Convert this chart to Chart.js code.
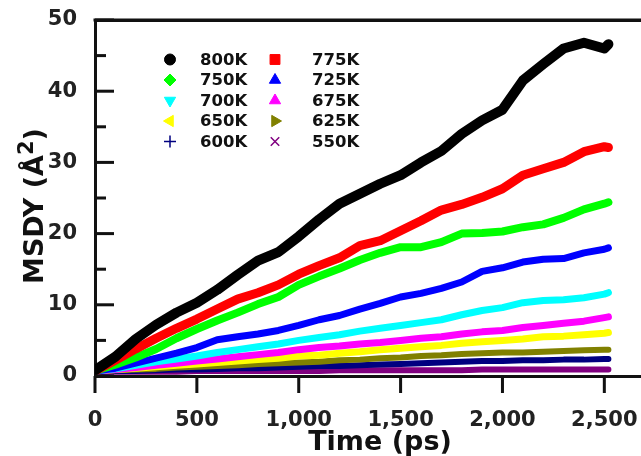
<!DOCTYPE html>
<html>
<head>
<meta charset="utf-8">
<script src="https://cdn.jsdelivr.net/npm/chart.js@4.4.1/dist/chart.umd.min.js"></script>
<style>
    html, body { margin: 0; padding: 0; background: #ffffff; }
    canvas { display: block; }
</style>
</head>
<body>
<canvas id="msdChart" width="641" height="456"></canvas>
<script>
// Time axis (ps), shared by every series
const times = [0, 100, 200, 300, 400, 500, 600, 700, 800, 900, 1000, 1100, 1200, 1300,
    1400, 1500, 1600, 1700, 1800, 1900, 2000, 2100, 2200, 2300, 2400, 2500, 2520];

// MSD in the y direction (A^2)
const msd800 = [0.8, 2.7, 5.2, 7.2, 8.9, 10.3, 12.1, 14.2, 16.2, 17.4, 19.6, 22.0, 24.2, 25.6,
    27.0, 28.2, 30.0, 31.6, 34.0, 35.9, 37.4, 41.5, 43.8, 46.0, 46.8, 46.0, 46.6];
const msd775 = [0.7, 2.2, 3.8, 5.3, 6.7, 8.0, 9.4, 10.8, 11.7, 12.8, 14.3, 15.5, 16.6, 18.3,
    19.0, 20.4, 21.8, 23.3, 24.1, 25.1, 26.3, 28.2, 29.1, 30.0, 31.5, 32.2, 32.1];
const msd750 = [0.7, 1.6, 2.6, 3.8, 5.3, 6.6, 7.8, 8.9, 10.1, 11.1, 12.8, 14.0, 15.1, 16.3,
    17.3, 18.1, 18.1, 18.8, 20.0, 20.1, 20.3, 20.9, 21.3, 22.2, 23.4, 24.2, 24.4];
const msd725 = [0.7, 1.1, 1.8, 2.5, 3.2, 4.0, 5.1, 5.5, 5.9, 6.4, 7.1, 7.9, 8.5, 9.4,
    10.2, 11.1, 11.6, 12.3, 13.2, 14.7, 15.2, 16.0, 16.4, 16.5, 17.3, 17.8, 18.0];
const msd700 = [0.7, 1.0, 1.5, 2.0, 2.4, 2.8, 3.3, 3.7, 4.1, 4.5, 5.0, 5.4, 5.8, 6.3,
    6.7, 7.1, 7.5, 7.9, 8.6, 9.2, 9.6, 10.3, 10.6, 10.7, 11.0, 11.5, 11.7];
const msd675 = [0.7, 0.9, 1.2, 1.5, 1.8, 2.1, 2.4, 2.7, 3.0, 3.3, 3.7, 4.0, 4.2, 4.5,
    4.7, 5.0, 5.3, 5.5, 5.9, 6.2, 6.4, 6.8, 7.1, 7.4, 7.7, 8.2, 8.3];
const msd650 = [0.7, 0.9, 1.1, 1.3, 1.5, 1.7, 1.9, 2.1, 2.3, 2.5, 2.8, 2.9, 3.2, 3.4,
    3.7, 3.9, 4.1, 4.3, 4.6, 4.8, 5.0, 5.2, 5.5, 5.6, 5.8, 6.0, 6.1];
const msd625 = [0.7, 0.8, 0.9, 1.0, 1.2, 1.3, 1.4, 1.5, 1.7, 1.8, 1.9, 2.0, 2.2, 2.3,
    2.5, 2.6, 2.8, 2.9, 3.1, 3.2, 3.3, 3.3, 3.4, 3.5, 3.6, 3.7, 3.7];
const msd600 = [0.6, 0.7, 0.7, 0.8, 0.9, 0.9, 1.0, 1.1, 1.1, 1.2, 1.3, 1.4, 1.4, 1.5,
    1.6, 1.7, 1.8, 1.9, 2.0, 2.1, 2.1, 2.2, 2.2, 2.3, 2.3, 2.4, 2.4];
const msd550 = [0.5, 0.6, 0.6, 0.6, 0.6, 0.7, 0.7, 0.7, 0.7, 0.7, 0.7, 0.7, 0.8, 0.8,
    0.8, 0.8, 0.8, 0.8, 0.8, 0.9, 0.9, 0.9, 0.9, 0.9, 0.9, 0.9, 0.9];

const xTicks = [0, 500, 1000, 1500, 2000, 2500];
const yMajorTicks = [0, 10, 20, 30, 40, 50];
const yMinorTicks = [5, 15, 25, 35, 45];

const FONT = 'DejaVu Sans';
const AXIS_COLOR = '#111111';
const TEXT_COLOR = '#222222';

function series(label, values, color, pointStyle, rotation, width) {
    return {
        label: label,
        data: times.map((t, i) => ({ x: t, y: values[i] })),
        borderColor: color,
        backgroundColor: color,
        borderWidth: width,
        borderCapStyle: 'round',
        borderJoinStyle: 'round',
        pointRadius: 0,
        pointStyle: pointStyle,
        rotation: rotation,
        tension: 0,
        fill: false
    };
}

const datasets = [
    series('800K', msd800, '#000000', 'circle', 0, 10),
    series('775K', msd775, '#ff0000', 'rect', 0, 9),
    series('750K', msd750, '#00ff00', 'rectRot', 0, 8),
    series('725K', msd725, '#0000ff', 'triangle', 0, 7),
    series('700K', msd700, '#00ffff', 'triangle', 180, 7),
    series('675K', msd675, '#ff00ff', 'triangle', 0, 7),
    series('650K', msd650, '#ffff00', 'triangle', -90, 7),
    series('625K', msd625, '#808000', 'triangle', 90, 6),
    series('600K', msd600, '#000080', 'cross', 0, 6),
    series('550K', msd550, '#800080', 'crossRot', 0, 6)
];

// Ticks inside the frame for y, outside for x, plus the top line
const framePlugin = {
    id: 'frame',
    afterDraw(chart) {
        const ctx = chart.ctx;
        const xs = chart.scales.x;
        const ys = chart.scales.y;
        const left = xs.left;
        const bottom = ys.getPixelForValue(0);
        const top = ys.getPixelForValue(50);
        ctx.save();
        ctx.fillStyle = AXIS_COLOR;
        ctx.fillRect(left - 1.5, top - 1.5, xs.right - left + 1.5, 3);
        yMajorTicks.forEach(v => {
            ctx.fillRect(left, ys.getPixelForValue(v) - 1.5, 19, 3);
        });
        yMinorTicks.forEach(v => {
            ctx.fillRect(left, ys.getPixelForValue(v) - 1.5, 11, 3);
        });
        xTicks.forEach(v => {
            ctx.fillRect(xs.getPixelForValue(v) - 1.5, bottom, 3, 17);
        });
        ctx.restore();
    }
};

// Axis titles, drawn by hand for the superscript
const titlePlugin = {
    id: 'titles',
    afterDraw(chart) {
        const ctx = chart.ctx;
        ctx.save();
        ctx.fillStyle = '#111111';
        ctx.font = 'bold 27px "' + FONT + '"';
        ctx.textAlign = 'center';
        ctx.textBaseline = 'alphabetic';
        ctx.fillText('Time (ps)', 380, 450);

        // y title, rotated
        const main1 = 'MSDY (Å';
        const sup = '2';
        const main2 = ')';
        ctx.translate(43, 206);
        ctx.rotate(-Math.PI / 2);
        ctx.textAlign = 'left';
        ctx.font = 'bold 27px "' + FONT + '"';
        const w1 = ctx.measureText(main1).width;
        const w3 = ctx.measureText(main2).width;
        ctx.font = 'bold 21px "' + FONT + '"';
        const w2 = ctx.measureText(sup).width;
        let x = -(w1 + w2 + w3) / 2;
        ctx.font = 'bold 27px "' + FONT + '"';
        ctx.fillText(main1, x, 0);
        x += w1;
        ctx.font = 'bold 21px "' + FONT + '"';
        ctx.fillText(sup, x, -10);
        x += w2;
        ctx.font = 'bold 27px "' + FONT + '"';
        ctx.fillText(main2, x, 0);
        ctx.restore();
    }
};

// Two-column legend inside the plot
const legendPlugin = {
    id: 'insideLegend',
    afterDraw(chart) {
        const ctx = chart.ctx;
        const markerX = [170, 275];
        const textX = [200, 312];
        const rowY = 59.5;
        const rowGap = 20.5;
        ctx.save();
        ctx.font = 'bold 16.5px "' + FONT + '"';
        ctx.textBaseline = 'middle';
        ctx.textAlign = 'left';
        chart.data.datasets.forEach((ds, i) => {
            const col = i % 2;
            const row = Math.floor(i / 2);
            const y = rowY + row * rowGap;
            ctx.fillStyle = ds.borderColor;
            ctx.strokeStyle = ds.borderColor;
            const cross = ds.pointStyle === 'cross' || ds.pointStyle === 'crossRot';
            ctx.lineWidth = cross ? 1.5 : 1;
            let r = 6;
            if (ds.pointStyle === 'rect') r = 7;
            if (ds.pointStyle === 'triangle') r = 6.5;
            if (ds.pointStyle === 'circle') r = 5.5;
            Chart.helpers.drawPoint(ctx, {
                pointStyle: ds.pointStyle,
                rotation: ds.rotation,
                radius: r,
                borderWidth: ctx.lineWidth
            }, markerX[col], y);
            ctx.fillStyle = '#111111';
            ctx.fillText(ds.label, textX[col], y + 1);
        });
        ctx.restore();
    }
};

function noEdgePadding(scale) {
    scale.paddingLeft = 0;
    scale.paddingRight = 0;
    scale.paddingTop = 0;
    scale.paddingBottom = 0;
}

new Chart(document.getElementById('msdChart'), {
    type: 'line',
    data: { datasets: datasets },
    options: {
        responsive: false,
        animation: false,
        devicePixelRatio: 1,
        layout: { padding: 0 },
        plugins: {
            legend: { display: false },
            tooltip: { enabled: false }
        },
        scales: {
            x: {
                type: 'linear',
                min: 0,
                max: 2680,
                afterFit(scale) {
                    scale.height = 80;
                    noEdgePadding(scale);
                },
                afterBuildTicks(scale) {
                    scale.ticks = xTicks.map(v => ({ value: v }));
                },
                grid: { display: false },
                border: { display: true, color: AXIS_COLOR, width: 3 },
                ticks: {
                    padding: 24,
                    color: TEXT_COLOR,
                    font: { family: FONT, size: 21, weight: 'bold' },
                    maxRotation: 0,
                    callback: v => v.toLocaleString('en-US')
                }
            },
            // top frame line only
            xTop: {
                type: 'linear',
                position: 'top',
                min: 0,
                max: 2680,
                afterFit(scale) {
                    scale.height = 20;
                    noEdgePadding(scale);
                },
                grid: { display: false },
                border: { display: true, color: AXIS_COLOR, width: 3 },
                ticks: { display: false }
            },
            y: {
                min: 0,
                max: 50,
                afterFit(scale) {
                    scale.width = 95;
                    noEdgePadding(scale);
                },
                grid: { display: false },
                border: { display: true, color: AXIS_COLOR, width: 3 },
                ticks: {
                    stepSize: 10,
                    padding: 10,
                    color: TEXT_COLOR,
                    font: { family: FONT, size: 21, weight: 'bold' }
                }
            }
        }
    },
    plugins: [framePlugin, titlePlugin, legendPlugin]
});
</script>
</body>
</html>
